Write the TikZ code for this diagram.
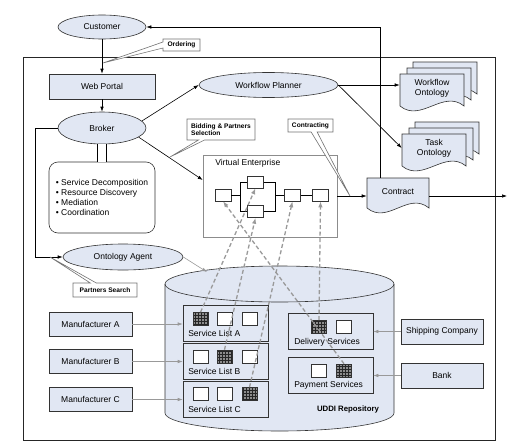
\documentclass[tikz,border=0pt]{standalone}
\usepackage{fontspec}
\setmainfont{Liberation Sans}
\usetikzlibrary{shapes.geometric,shapes.callouts,arrows.meta,patterns}
\definecolor{lblue}{RGB}{225,231,243}
% one page of a document shape: left x, top y, right x, bottom y of the sides
\newcommand{\docpage}[4]{\filldraw[fill=lblue,draw=black!80] (#1,#2) -- (#1,#4) .. controls +(21,-17) and +(-21,17) .. (#3,#4) -- (#3,#2) -- cycle;}

\begin{document}
\begin{tikzpicture}[x=1pt,y=1pt,line width=0.6pt,>={Latex[length=5pt,width=3.5pt]}]
	\tikzstyle{every node}+=[inner sep=0pt,font=\fontsize{8.5}{10}\selectfont]
	\tikzstyle{ell}=[ellipse,draw=black!80,fill=lblue]
	\tikzstyle{blk}=[rectangle,draw=black!80,fill=lblue]
	\tikzstyle{note}=[rectangle callout,draw=black!55,fill=white,font=\fontsize{6.6}{7.6}\selectfont\bfseries,callout pointer width=6pt,align=left]
	\tikzstyle{lst}=[rectangle,draw=black!80,minimum width=85pt,minimum height=36pt]
	\tikzstyle{sq}=[rectangle,draw=black!80,fill=white,minimum width=15pt,minimum height=13pt]
	\tikzstyle{hot}=[sq,preaction={fill=black!45},pattern=grid,pattern color=black!85]
	\tikzstyle{gline}=[draw=black!40,->]
	\tikzstyle{dline}=[draw=black!40,line width=1.3pt,dash pattern=on 4pt off 2.5pt,-{Latex[length=6pt,width=4.5pt]}]
	\useasboundingbox (0,0) rectangle (521,-444);
	\draw [black!85] (23,-57) rectangle (495,-440);
	% repository
	\filldraw [fill=lblue,draw=black!80] (165,-284) -- (165,-413) arc[start angle=180,end angle=360,x radius=114.5,y radius=18] -- (394,-284) arc[start angle=0,end angle=180,x radius=114.5,y radius=18] -- cycle;
	\draw [black!80] (165,-284) arc[start angle=180,end angle=360,x radius=114.5,y radius=18];
	\coordinate (repotop) at (207,-272);
	\node [font=\fontsize{7.8}{9}\selectfont\bfseries] (repolbl) at (348,-409) {UDDI Repository};
	% left column
	\node [ell,minimum width=88pt,minimum height=24pt] (customer) at (102,-27) {Customer};
	\node [blk,minimum width=106pt,minimum height=25pt] (portal) at (102,-86.5) {Web Portal};
	\node [ell,minimum width=88pt,minimum height=32pt] (broker) at (102,-128) {Broker};
	\node [rectangle,draw=black!80,rounded corners=9pt,minimum width=106pt,minimum height=71pt,align=left] (tasks) at (102,-197.5) {\textbullet\ Service Decomposition\\ \textbullet\ Resource Discovery\\ \textbullet\ Mediation\\ \textbullet\ Coordination};
	\node [ell,minimum width=120pt,minimum height=26pt] (onto) at (123,-257) {Ontology Agent};
	\node [ell,minimum width=139pt,minimum height=25pt] (planner) at (268.5,-85) {Workflow Planner};
	% virtual enterprise
	\node [rectangle,draw=black!45,minimum width=134pt,minimum height=82pt] (ve) at (270,-196) {};
	\node [anchor=west] (vetitle) at (215,-163) {Virtual Enterprise};
	\node [sq,minimum width=16pt,minimum height=12pt] (ve1) at (223,-195) {};
	\node [sq,minimum width=16pt,minimum height=12pt] (ve2) at (255.5,-182) {};
	\node [sq,minimum width=16pt,minimum height=12pt] (ve3) at (255.5,-211.5) {};
	\node [sq,minimum width=16pt,minimum height=12pt] (ve4) at (292.5,-195) {};
	\node [sq,minimum width=16pt,minimum height=12pt] (ve5) at (320.5,-195) {};
	\draw (ve1.east) -- ++(9,0) coordinate (fork);
	\draw (ve2.west) -| (fork) |- (ve3.west);
	\draw (ve4.west) -- ++(-9,0) coordinate (join);
	\draw (ve2.east) -| (join) |- (ve3.east);
	\draw (ve4.east) -- (ve5.west);
	% ontologies and contract
	\docpage{413}{-62}{477}{-94}
	\docpage{407}{-68}{471}{-100}
	\docpage{400}{-74}{464}{-106}
	\node [minimum width=64pt,align=center] (wfo) at (432,-88) {Workflow\\Ontology};
	\docpage{415}{-122}{479}{-154}
	\docpage{409}{-128}{473}{-160}
	\docpage{402}{-134}{466}{-166}
	\node [minimum width=64pt,align=center] (tko) at (434,-148) {Task\\Ontology};
	\docpage{367}{-178}{429}{-208}
	\node [minimum width=62pt,minimum height=28pt] (contract) at (398,-192) {Contract};
	\coordinate (out) at (507,-196);
	% service lists
	\node [lst] (lista) at (225.5,-323) {};
	\node [hot] (sa1) at (200.5,-319) {};
	\node [sq] (sa2) at (224.5,-319) {};
	\node [sq] (sa3) at (249.5,-319) {};
	\node [anchor=west] (lbla) at (188,-333) {Service List A};
	\node [lst] (listb) at (225.5,-361) {};
	\node [sq] (sb1) at (200.5,-356.5) {};
	\node [hot] (sb2) at (224.5,-356.5) {};
	\node [sq] (sb3) at (249.5,-356.5) {};
	\node [anchor=west] (lblb) at (188,-371) {Service List B};
	\node [lst] (listc) at (225.5,-399) {};
	\node [sq] (sc1) at (200.5,-394) {};
	\node [sq] (sc2) at (224.5,-394) {};
	\node [hot] (sc3) at (249.5,-394) {};
	\node [anchor=west] (lblc) at (188,-409) {Service List C};
	\node [lst] (deliv) at (330.5,-331) {};
	\node [hot] (sd1) at (319,-327) {};
	\node [sq] (sd2) at (344,-327) {};
	\node [anchor=west] (lbld) at (294,-342) {Delivery Services};
	\node [lst] (pay) at (330.5,-375) {};
	\node [sq] (sp1) at (319,-370.5) {};
	\node [hot] (sp2) at (344,-370.5) {};
	\node [anchor=west] (lblp) at (294,-385) {Payment Services};
	% providers
	\node [blk,minimum width=83pt,minimum height=24pt] (mana) at (90.5,-324) {Manufacturer A};
	\node [blk,minimum width=83pt,minimum height=24pt] (manb) at (90.5,-361.5) {Manufacturer B};
	\node [blk,minimum width=83pt,minimum height=24pt] (manc) at (90.5,-399.5) {Manufacturer C};
	\node [blk,minimum width=82pt,minimum height=25pt] (ship) at (442,-331.5) {Shipping Company};
	\node [blk,minimum width=82pt,minimum height=25pt] (bank) at (442,-375.5) {Bank};
	% connectors
	\draw [->] (customer) -- (portal);
	\draw [->] (portal) -- (broker);
	\draw [->] (broker.10) -- (planner.west);
	\draw [->] (broker.-14) -- ([yshift=16pt]ve.west);
	\draw [double,double distance=8pt] (broker) -- (tasks);
	\draw [->] (broker.west) -- ++(-22,0) |- (onto.west);
	\draw [gline] (onto.east) -- (repotop);
	\draw [->] (planner.east) -- (planner.east -| wfo.west);
	\draw [->] (planner.east) -- (tko.west);
	\draw [->] (ve.east) -- (ve.east -| contract.west);
	\draw [->] (contract.east |- out) -- (out);
	\draw [->] ([xshift=14pt]contract.north west) |- (customer.east);
	\draw [gline] (mana.east) -- (mana.east -| lista.west);
	\draw [gline] (manb.east) -- (manb.east -| listb.west);
	\draw [gline] (manc.east) -- (manc.east -| listc.west);
	\draw [gline] (ship.west) -- (ship.west -| deliv.east);
	\draw [gline] (bank.west) -- (bank.west -| pay.east);
	\draw [dline] (sa1.north) -- (ve2.south);
	\draw [dline] (sb2.north) -- (ve3.south);
	\draw [dline] (sc3.north) -- (ve4.south);
	\draw [dline] (sd1.north) -- (ve5.south);
	\draw [dline] (sp2.north) -- (ve1.south);
	% callouts
	\coordinate (ordpt) at (103,-63);
	\coordinate (bidpt) at (170,-157);
	\coordinate (conpt) at (350,-196);
	\coordinate (schpt) at (50,-257);
	\node [note,minimum width=37pt,minimum height=12pt,callout absolute pointer={(ordpt)}] (ordering) at (181.5,-45) {Ordering};
	\node [note,minimum width=68pt,minimum height=21pt,callout absolute pointer={(bidpt)}] (bidding) at (221,-129.5) {Bidding \& Partners\\Selection};
	\node [note,minimum width=45pt,minimum height=13pt,callout absolute pointer={(conpt)}] (contracting) at (310.5,-125.5) {Contracting};
	\node [note,minimum width=64pt,minimum height=14pt,callout absolute pointer={(schpt)}] (search) at (105,-290) {Partners Search};
\end{tikzpicture}
\end{document}
